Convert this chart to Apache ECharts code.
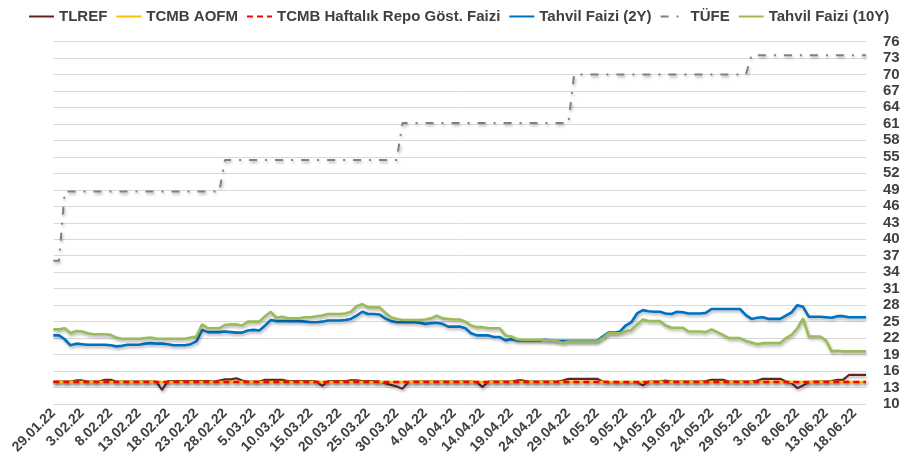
<!DOCTYPE html>
<html>
<head>
<meta charset="utf-8">
<script src="https://cdn.jsdelivr.net/npm/echarts@6/dist/echarts.min.js"></script>
<style>html,body{margin:0;padding:0;background:#fff;}#c{width:910px;height:471px;}</style>
</head>
<body>
<div id="c"></div>
<script>
// Categories: daily dates 29.01.22 .. 20.06.22 (143 days)
const startDate = [2022, 0, 29];
const dayCount = 143;
const dates = [];
for (let i = 0; i < dayCount; i++) {
  const d = new Date(Date.UTC(startDate[0], startDate[1], startDate[2] + i));
  dates.push(d.getUTCDate() + '.' + String(d.getUTCMonth() + 1).padStart(2, '0') + '.' + String(d.getUTCFullYear()).slice(2));
}

const yTicks = [10,13,16,19,22,25,28,31,34,37,40,43,46,49,52,55,58,61,64,67,70,73,76];

const tlref = [
14.1,14.1,14.1,14.1,14.3,14.3,14.1,14.1,14.1,14.4,
14.4,14.1,14.1,14.1,14.1,14.1,14.1,14.1,14.1,12.6,
14.2,14.2,14.2,14.2,14.2,14.2,14.2,14.2,14.1,14.3,
14.5,14.5,14.7,14.3,14.1,14.1,14.1,14.4,14.4,14.4,
14.4,14.2,14.2,14.2,14.2,14.2,14.1,13.3,14.2,14.2,
14.2,14.2,14.3,14.3,14.2,14.2,14.2,14.1,13.8,13.5,
13.2,12.8,14.0,14.1,14.1,14.1,14.1,14.1,14.1,14.1,
14.1,14.1,14.1,14.1,14.0,13.1,14.1,14.1,14.1,14.1,
14.1,14.3,14.3,14.1,14.1,14.1,14.1,14.1,14.1,14.3,
14.6,14.6,14.6,14.6,14.6,14.6,14.1,14.0,14.0,14.0,
14.0,14.0,14.0,13.4,14.1,14.1,14.1,14.3,14.1,14.1,
14.1,14.1,14.1,14.1,14.2,14.4,14.4,14.4,14.1,14.1,
14.1,14.1,14.1,14.3,14.6,14.6,14.6,14.6,14.1,13.8,
12.9,13.4,14.0,14.1,14.1,14.1,14.2,14.4,14.4,15.3,
15.3,15.3,15.3];

const aofm = [
14,14,14,14,14,14,14,14,14,14, 14,14,14,14,14,14,14,14,14,14,
14,14,14,14,14,14,14,14,14,14, 14,14,14,14,14,14,14,14,14,14,
14,14,14,14,14,14,14,14,14,14, 14,14,14,14,14,14,14,14,14,14,
14,14,14,14,14,14,14,14,14,14, 14,14,14,14,14,14,14,14,14,14,
14,14,14,14,14,14,14,14,14,14, 14,14,14,14,14,14,14,14,14,14,
14,14,14,14,14,14,14,14,14,14, 14,14,14,14,14,14,14,14,14,14,
14,14,14,14,14,14,14,14,14,14, 14,14,14,14,14,14,14,14,14,14,
14,14,14];

const repo = [
14,14,14,14,14,14,14,14,14,14, 14,14,14,14,14,14,14,14,14,14,
14,14,14,14,14,14,14,14,14,14, 14,14,14,14,14,14,14,14,14,14,
14,14,14,14,14,14,14,14,14,14, 14,14,14,14,14,14,14,14,14,14,
14,14,14,14,14,14,14,14,14,14, 14,14,14,14,14,14,14,14,14,14,
14,14,14,14,14,14,14,14,14,14, 14,14,14,14,14,14,14,14,14,14,
14,14,14,14,14,14,14,14,14,14, 14,14,14,14,14,14,14,14,14,14,
14,14,14,14,14,14,14,14,14,14, 14,14,14,14,14,14,14,14,14,14,
14,14,14];

const bond2y = [
22.5,22.5,21.8,20.7,21.0,20.9,20.8,20.8,20.8,20.8,
20.7,20.5,20.6,20.8,20.8,20.8,21.0,21.1,21.0,21.0,
20.9,20.7,20.7,20.7,20.9,21.4,23.5,23.1,23.1,23.1,
23.2,23.1,23.0,23.0,23.4,23.5,23.4,24.3,25.3,25.1,
25.1,25.1,25.1,25.1,25.0,24.9,24.9,25.0,25.2,25.2,
25.2,25.3,25.5,26.1,26.8,26.4,26.4,26.3,25.6,25.1,
24.9,24.9,24.9,24.9,24.8,24.6,24.7,24.8,24.6,24.1,
24.1,24.1,23.8,22.9,22.5,22.5,22.5,22.2,22.2,21.6,
21.8,21.6,21.6,21.6,21.6,21.6,21.7,21.6,21.5,21.5,
21.5,21.5,21.5,21.5,21.5,21.5,22.3,23.0,23.0,23.2,
24.3,24.9,26.5,27.1,26.9,26.8,26.8,26.5,26.4,26.8,
26.7,26.5,26.5,26.5,26.6,27.3,27.3,27.3,27.3,27.3,
27.3,26.2,25.5,25.7,25.8,25.5,25.5,25.5,26.1,26.7,
28.0,27.7,25.9,25.9,25.9,25.8,25.7,26.0,26.0,25.8,
25.8,25.8,25.8];

const tufe = [
36.08,36.08,48.69,48.69,48.69,48.69,48.69,48.69,48.69,48.69,
48.69,48.69,48.69,48.69,48.69,48.69,48.69,48.69,48.69,48.69,
48.69,48.69,48.69,48.69,48.69,48.69,48.69,48.69,48.69,48.69,
54.44,54.44,54.44,54.44,54.44,54.44,54.44,54.44,54.44,54.44,
54.44,54.44,54.44,54.44,54.44,54.44,54.44,54.44,54.44,54.44,
54.44,54.44,54.44,54.44,54.44,54.44,54.44,54.44,54.44,54.44,
54.44,61.14,61.14,61.14,61.14,61.14,61.14,61.14,61.14,61.14,
61.14,61.14,61.14,61.14,61.14,61.14,61.14,61.14,61.14,61.14,
61.14,61.14,61.14,61.14,61.14,61.14,61.14,61.14,61.14,61.14,
61.14,69.97,69.97,69.97,69.97,69.97,69.97,69.97,69.97,69.97,
69.97,69.97,69.97,69.97,69.97,69.97,69.97,69.97,69.97,69.97,
69.97,69.97,69.97,69.97,69.97,69.97,69.97,69.97,69.97,69.97,
69.97,69.97,73.5,73.5,73.5,73.5,73.5,73.5,73.5,73.5,
73.5,73.5,73.5,73.5,73.5,73.5,73.5,73.5,73.5,73.5,
73.5,73.5,73.5];

const bond10y = [
23.6,23.6,23.8,22.9,23.3,23.2,22.9,22.7,22.7,22.7,
22.6,22.1,21.9,21.9,21.9,21.9,22.0,22.1,21.9,21.9,
21.9,21.9,21.9,21.9,22.1,22.3,24.5,23.8,23.8,23.8,
24.4,24.5,24.5,24.3,25.0,25.0,25.0,26.0,26.8,25.7,
25.9,25.6,25.6,25.6,25.8,25.8,26.0,26.1,26.4,26.4,
26.4,26.5,26.8,27.8,28.2,27.6,27.6,27.6,26.6,25.8,
25.5,25.3,25.3,25.3,25.3,25.4,25.6,26.1,25.6,25.5,
25.4,25.4,25.0,24.3,24.0,24.0,23.8,23.8,23.8,22.5,
22.3,21.8,21.7,21.7,21.7,21.7,21.6,21.6,21.5,21.1,
21.4,21.4,21.4,21.4,21.4,21.4,22.0,22.9,22.9,22.9,
23.2,23.5,24.5,25.4,25.1,25.1,25.1,24.3,23.9,23.9,
23.9,23.2,23.2,23.2,23.1,23.6,23.1,22.6,22.0,22.0,
22.0,21.5,21.2,20.9,21.1,21.1,21.1,21.1,22.0,22.6,
23.8,25.6,22.3,22.3,22.3,21.6,19.6,19.7,19.6,19.6,
19.6,19.6,19.6];

const seriesNames = ['TLREF', 'TCMB AOFM', 'TCMB Haftalık Repo Göst. Faizi', 'Tahvil Faizi (2Y)', 'TÜFE', 'Tahvil Faizi (10Y)'];

const shadow = { shadowColor: 'rgba(0,0,0,0.3)', shadowBlur: 3, shadowOffsetX: 1, shadowOffsetY: 2 };
function mk(name, data, color, width, type) {
  return {
    name: name, type: 'line', data: data, symbol: 'none', showSymbol: false,
    lineStyle: Object.assign({ color: color, width: width, type: type || 'solid' }, shadow),
    itemStyle: { color: color },
    emphasis: { disabled: true },
    animation: false
  };
}

const font = 'Liberation Sans, Arial, sans-serif';
const chart = echarts.init(document.getElementById('c'), null, { renderer: 'canvas' });
chart.setOption({
  backgroundColor: '#ffffff',
  animation: false,
  textStyle: { fontFamily: font },
  legend: {
    top: 4, left: 23,
    itemWidth: 25, itemHeight: 14, itemGap: 8,
    itemStyle: { opacity: 0 },
    lineStyle: { shadowBlur: 0, shadowOffsetX: 0, shadowOffsetY: 0, shadowColor: 'transparent' },
    textStyle: { fontSize: 15, fontWeight: 'bold', color: '#404040', fontFamily: font },
    data: seriesNames
  },
  grid: { left: 53.3, right: 44, top: 41.4, bottom: 66.9 },
  xAxis: {
    type: 'category', data: dates, boundaryGap: false,
    axisLine: { show: false }, axisTick: { show: false },
    axisLabel: { interval: 4, rotate: 45, margin: 7, fontSize: 14, fontWeight: 'bold', color: '#404040', fontFamily: font },
    splitLine: { show: false }
  },
  yAxis: {
    type: 'value', position: 'right', min: 10, max: 76,
    axisLine: { show: false },
    axisTick: { show: false, customValues: yTicks },
    axisLabel: { customValues: yTicks, margin: 17, fontSize: 15, fontWeight: 'bold', color: '#404040', fontFamily: font },
    splitLine: { show: true, lineStyle: { color: '#d9d9d9', width: 1 } }
  },
  series: [
    mk(seriesNames[0], tlref, '#632523', 2.2),
    mk(seriesNames[1], aofm, '#FFC000', 2.5),
    mk(seriesNames[2], repo, '#FF0000', 2.5, [6, 4]),
    mk(seriesNames[3], bond2y, '#0070C0', 2.6),
    mk(seriesNames[4], tufe, '#808080', 2, [8, 8, 2, 8]),
    mk(seriesNames[5], bond10y, '#9BBB59', 2.6)
  ]
});
</script>
</body>
</html>
